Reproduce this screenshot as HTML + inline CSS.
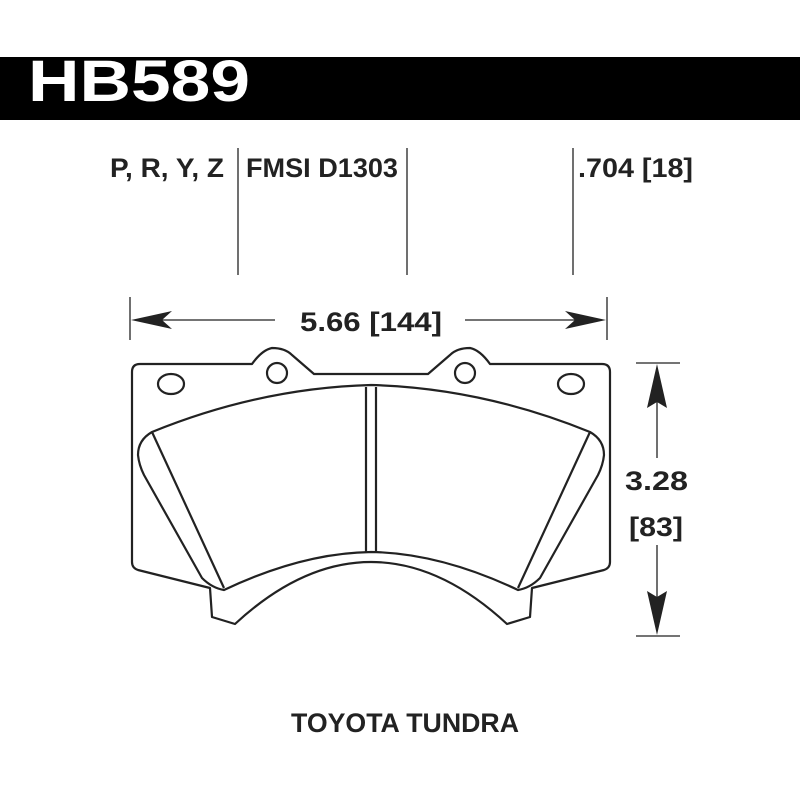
<!DOCTYPE html>
<html><head><style>body{margin:0;background:#fff}svg{display:block}</style></head>
<body>
<svg width="800" height="800" viewBox="0 0 800 800" xmlns="http://www.w3.org/2000/svg">
<rect x="0" y="57" width="800" height="63" fill="#000"/>
<text x="28" y="101" font-family="Liberation Sans, sans-serif" font-weight="bold" font-size="58" fill="#fff" textLength="222" lengthAdjust="spacingAndGlyphs">HB589</text>
<g font-family="Liberation Sans, sans-serif" font-weight="bold" fill="#222">
<text x="110" y="177" font-size="27" textLength="114" lengthAdjust="spacingAndGlyphs">P, R, Y, Z</text>
<text x="246" y="177" font-size="27" textLength="152" lengthAdjust="spacingAndGlyphs">FMSI D1303</text>
<text x="578" y="177" font-size="27" textLength="115" lengthAdjust="spacingAndGlyphs">.704 [18]</text>
<text x="300" y="331" font-size="27" textLength="142" lengthAdjust="spacingAndGlyphs">5.66 [144]</text>
<text x="625" y="490" font-size="27" textLength="63" lengthAdjust="spacingAndGlyphs">3.28</text>
<text x="629" y="536" font-size="27" textLength="54" lengthAdjust="spacingAndGlyphs">[83]</text>
<text x="291" y="732" font-size="27" textLength="228" lengthAdjust="spacingAndGlyphs">TOYOTA TUNDRA</text>
</g>
<g stroke="#222" stroke-width="1.3" fill="none">
<line x1="238" y1="148" x2="238" y2="275"/>
<line x1="407" y1="148" x2="407" y2="275"/>
<line x1="573" y1="148" x2="573" y2="275"/>
<line x1="130" y1="297" x2="130" y2="340"/>
<line x1="607" y1="297" x2="607" y2="340"/>
<line x1="150" y1="320" x2="275" y2="320"/>
<line x1="465" y1="320" x2="590" y2="320"/>
<line x1="636" y1="363" x2="680" y2="363"/>
<line x1="636" y1="636" x2="680" y2="636"/>
<line x1="657" y1="400" x2="657" y2="458"/>
<line x1="657" y1="545" x2="657" y2="600"/>
</g>
<g fill="#222">
<polygon points="131,320 172,311 162,320 172,329"/>
<polygon points="606,320 565,311 575,320 565,329"/>
<polygon points="657,364 647,408 657,402 667,408"/>
<polygon points="657,635 647,591 657,597 667,591"/>
</g>
<g stroke="#222" stroke-width="2.2" fill="none" stroke-linejoin="round">
<path d="M140,364 L252,364 Q262,350 272,348 Q285,348 292,355 L314,374 L428,374 L450,355 Q457,348 470,348 Q480,350 490,364 L602,364 Q610,364 610,372 L610,562 Q610,568 604,570 L532,588 L530,617 L507,624 Q440,562 371,562 Q302,562 235,624 L212,617 L210,588 L138,570 Q132,568 132,562 L132,372 Q132,364 140,364 Z"/>
<ellipse cx="171" cy="384" rx="13" ry="10"/>
<circle cx="277" cy="373" r="10"/>
<ellipse cx="571" cy="384" rx="13" ry="10"/>
<circle cx="465" cy="373" r="10"/>
<path d="M152,432 Q260,388 371,385 Q482,388 590,432 Q604,440 604,455 Q603,465 598,475 L540,578 Q530,588 518,590 Q440,553 371,552 Q302,553 224,590 Q212,588 202,578 L144,475 Q139,465 138,455 Q138,440 152,432 Z"/>
<line x1="152" y1="432" x2="224" y2="588"/>
<line x1="590" y1="432" x2="518" y2="588"/>
<line x1="366" y1="387" x2="366" y2="553"/>
<line x1="376" y1="387" x2="376" y2="553"/>
</g>
</svg>
</body></html>
